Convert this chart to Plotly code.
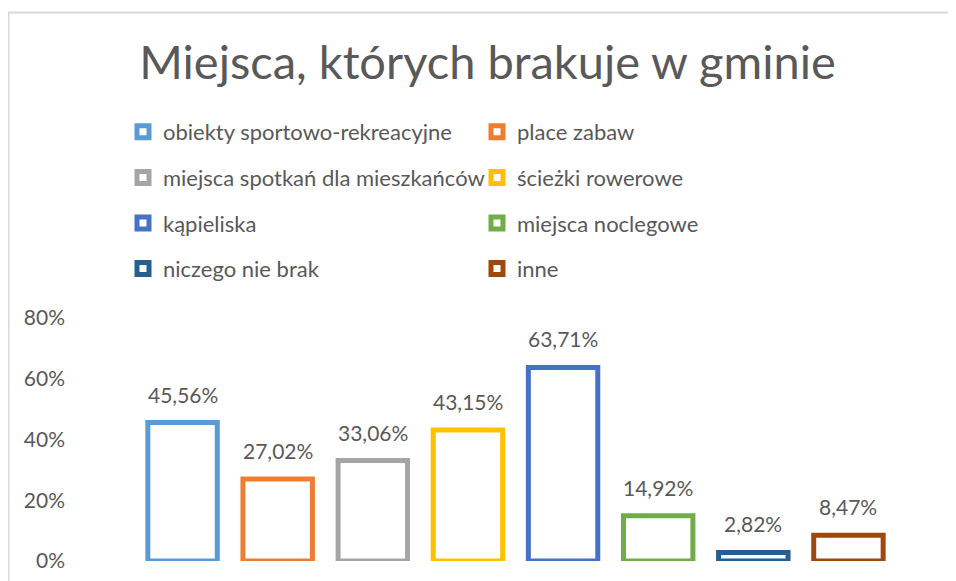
import plotly.graph_objects as go

categories = [
    "obiekty sportowo-rekreacyjne",
    "place zabaw",
    "miejsca spotkań dla mieszkańców",
    "ścieżki rowerowe",
    "kąpieliska",
    "miejsca noclegowe",
    "niczego nie brak",
    "inne",
]
values = [45.56, 27.02, 33.06, 43.15, 63.71, 14.92, 2.82, 8.47]
colors = ["#5B9BD5", "#ED7D31", "#A5A5A5", "#FFC000", "#4472C4", "#70AD47", "#255E91", "#9E480E"]
tick_vals = [0, 20, 40, 60, 80]
tick_text = ["0%", "20%", "40%", "60%", "80%"]

FONT = "Lato"
GREY = "#595959"
# page body has an 8px margin, so the figure is drawn 8px smaller and all
# pixel positions below are in figure coordinates (screen - 8)
W, H = 948, 573
L, R, T, B = 127, 60, 310, 20

fig = go.Figure()
for i, (cat, val, col) in enumerate(zip(categories, values, colors)):
    fig.add_trace(go.Bar(
        x=[cat], y=[val], name=cat,
        marker=dict(color="white", line=dict(color=col, width=5)),
        legend="legend" if i % 2 == 0 else "legend2",
        legendgroup=cat,
        hoverinfo="skip",
    ))
    fig.add_annotation(
        x=cat, y=val, text=f"{val:.2f}".replace(".", ",") + "%",
        showarrow=False, yanchor="bottom", yshift=14,
        font=dict(family=FONT, size=21, color=GREY),
    )

plot_h = H - T - B
plot_w = W - L - R

def py(pix):
    return (H - B - pix) / plot_h

def px(pix):
    return (pix - L) / plot_w

fig.add_shape(type="line", xref="paper", yref="paper",
              x0=px(0), x1=px(970), y0=py(4.5), y1=py(4.5),
              line=dict(color="#D9D9D9", width=2))
fig.add_shape(type="line", xref="paper", yref="paper",
              x0=px(0.5), x1=px(0.5), y0=py(4.5), y1=py(600),
              line=dict(color="#D9D9D9", width=2))

legend_common = dict(
    xref="container", yref="container", xanchor="left", yanchor="top",
    font=dict(family=FONT, size=22, color=GREY),
    bgcolor="rgba(0,0,0,0)", tracegroupgap=14, orientation="v",
    itemwidth=30,
)

fig.update_layout(
    width=W, height=H,
    margin=dict(l=L, r=R, t=T, b=B, autoexpand=False),
    paper_bgcolor="white", plot_bgcolor="white",
    barmode="overlay", bargap=0.27,
    separators=", ",
    title=dict(text="Miejsca, których brakuje w gminie",
               font=dict(family=FONT, size=47, color=GREY),
               x=479.5 / W, xanchor="center", y=1 - 55 / H, yanchor="middle",
               xref="container", yref="container"),
    legend=dict(x=115 / W, y=1 - 103 / H, **legend_common),
    legend2=dict(x=469 / W, y=1 - 103 / H, **legend_common),
    xaxis=dict(showticklabels=False, showgrid=False, zeroline=False, showline=False,
               ticks="", categoryorder="array", categoryarray=categories),
    yaxis=dict(range=[0, 80], tickvals=tick_vals, ticktext=tick_text,
               showgrid=False, zeroline=False, showline=False, ticks="",
               ticklabelstandoff=69,
               tickfont=dict(family=FONT, size=21, color=GREY)),
    showlegend=True,
)

fig.write_html("out.html")
